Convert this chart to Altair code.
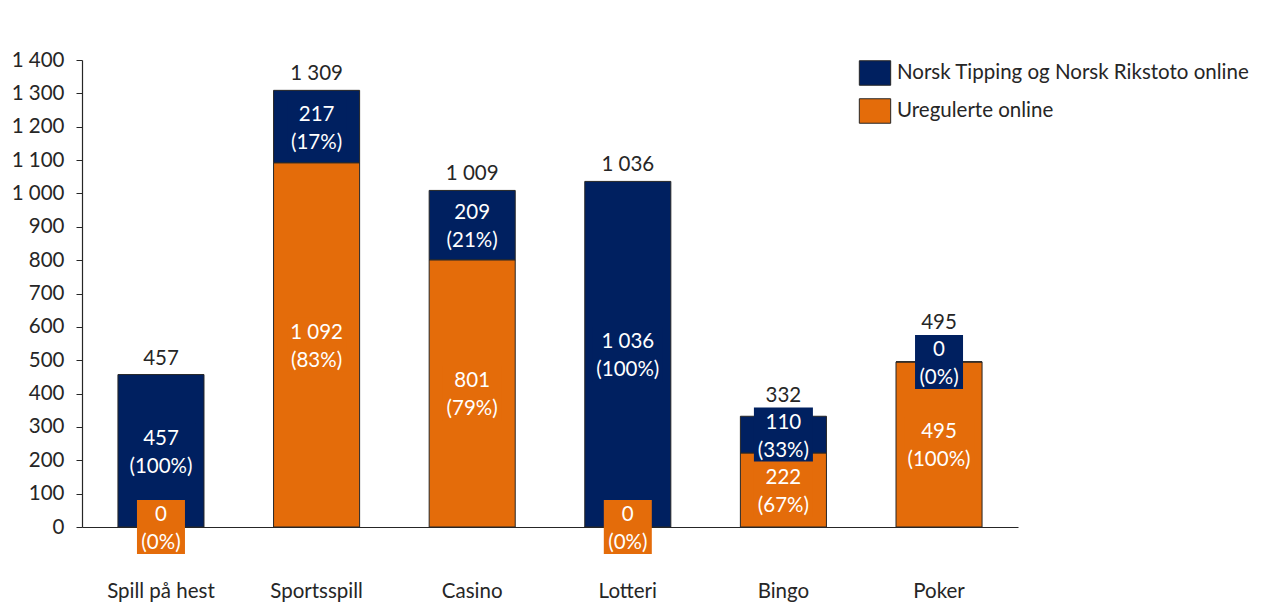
import altair as alt
import pandas as pd

categories = ["Spill på hest", "Sportsspill", "Casino", "Lotteri", "Bingo", "Poker"]
series = ["Norsk Tipping og Norsk Rikstoto online", "Uregulerte online"]
norsk_tipping = [457, 217, 209, 1036, 110, 0]
uregulerte = [0, 1092, 801, 0, 222, 495]
norsk_tipping_pct = [100, 17, 21, 100, 33, 0]
uregulerte_pct = [0, 83, 79, 0, 67, 100]
totals = [457, 1309, 1009, 1036, 332, 495]
y_ticks = list(range(0, 1401, 100))

NAVY = "#002060"
ORANGE = "#E46C0A"
FONT = "Lato"
FS = 20.5
DARK = "#262626"


def fmt(v):
    return f"{v:,}".replace(",", " ")


rows = []
for i, c in enumerate(categories):
    rows.append(dict(cat=c, series=series[1], start=0, end=uregulerte[i],
                     value=uregulerte[i], pct=uregulerte_pct[i]))
    rows.append(dict(cat=c, series=series[0], start=uregulerte[i], end=totals[i],
                     value=norsk_tipping[i], pct=norsk_tipping_pct[i]))
seg = pd.DataFrame(rows)
seg["mid"] = (seg["start"] + seg["end"]) / 2
seg["pctlabel"] = "(" + seg["pct"].astype(str) + "%)"
seg["label"] = seg["value"].map(fmt) + "\n" + seg["pctlabel"]
# label background boxes (27 px half height at 467px / 1400 units)
half = 27 * 1400 / 467
seg["box_lo"] = seg["mid"] - half
seg["box_hi"] = seg["mid"] + half
seg["box_w"] = seg["pctlabel"].str.len() * 11 + 4

nt_mid = [(u + t) / 2 for u, t in zip(uregulerte, totals)]
tot = pd.DataFrame({
    "cat": categories,
    "total": totals,
    "label": [fmt(t) for t in totals],
})
tot["ly"] = [max(t + 17 * 1400 / 467, m + half + 13 * 1400 / 467) for t, m in zip(totals, nt_mid)]

x_axis = alt.Axis(title=None, labelAngle=0, ticks=False, labelPadding=54,
                  labelFontSize=FS, labelFont=FONT, labelColor=DARK,
                  domainColor=DARK, domainWidth=1.2)
x_scale = alt.Scale(paddingInner=0.447, paddingOuter=0.231)
y_scale = alt.Scale(domain=[0, 1400], nice=False, zero=True)
y_axis = alt.Axis(title=None, values=y_ticks, tickSize=6, tickColor=DARK,
                  domainColor=DARK, domainWidth=1.2, grid=False, labelOverlap=False,
                  labelExpr="replace(format(datum.value, ','), ',', ' ')",
                  labelFontSize=FS, labelFont=FONT, labelColor=DARK, labelPadding=12)


def X():
    return alt.X("cat:N", sort=categories, scale=x_scale, axis=x_axis)


def Y(field):
    return alt.Y(field, scale=y_scale, axis=y_axis)


color = alt.Color(
    "series:N",
    scale=alt.Scale(domain=series, range=[NAVY, ORANGE]),
    legend=alt.Legend(title=None, orient="none", legendX=780, legendY=0,
                      symbolType="M-1.28,-1H1.28V1H-1.28Z", symbolSize=600,
                      symbolStrokeColor=DARK, symbolStrokeWidth=1, symbolOpacity=1,
                      labelFontSize=FS, labelFont=FONT, labelColor=DARK, labelLimit=500,
                      rowPadding=8, labelOffset=9, padding=0),
)

base = alt.Chart(seg)

bars = base.mark_bar(stroke=DARK, strokeWidth=1).encode(
    x=X(),
    y=Y("start:Q"),
    y2="end:Q",
    color=color,
)

boxes = base.mark_bar().encode(
    x=X(),
    y=Y("box_lo:Q"),
    y2="box_hi:Q",
    size=alt.Size("box_w:Q", scale=None, legend=None),
    color=alt.Color("series:N", legend=None),
)

labels = base.mark_text(color="white", fontSize=FS, font=FONT, lineBreak="\n",
                        lineHeight=28, baseline="middle", dy=-12).encode(
    x=X(),
    y=Y("mid:Q"),
    text="label:N",
)

total_labels = alt.Chart(tot).mark_text(color=DARK, fontSize=FS, font=FONT,
                                        baseline="middle", dy=1).encode(
    x=X(),
    y=Y("ly:Q"),
    text="label:N",
)

chart = alt.layer(bars, boxes, labels, total_labels).properties(
    width=936, height=467,
    autosize=alt.AutoSizeParams(type="none"),
    padding={"left": 74, "top": 52, "right": 257, "bottom": 81},
).configure_view(stroke=None)

chart.save("out.html", embed_options={"renderer": "svg", "actions": False})
